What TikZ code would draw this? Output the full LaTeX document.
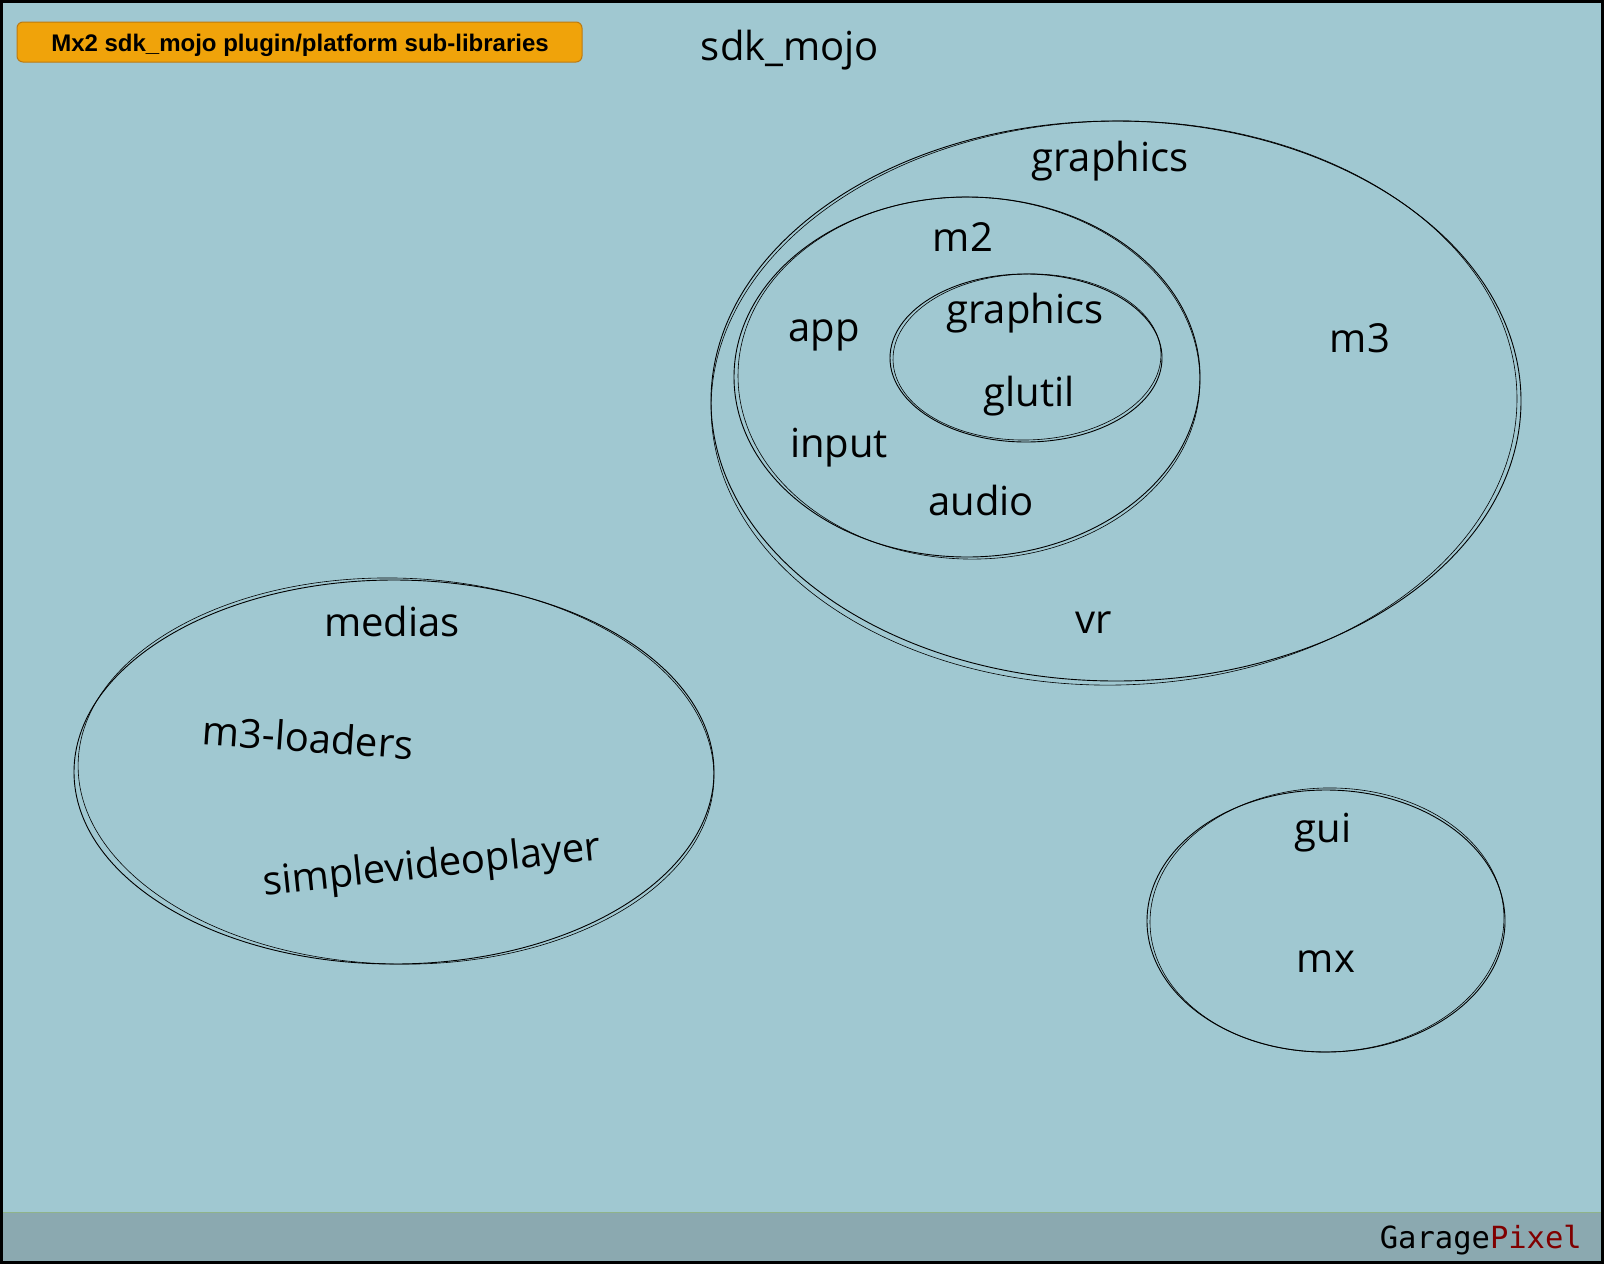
\documentclass[tikz,border=0pt]{standalone}
\usepackage{fontspec}
\setmainfont{Open Sans}
\newfontfamily\titlefont{Liberation Sans}
\newfontfamily\monofont{DejaVu Sans Mono}
\definecolor{bg}{HTML}{A0C8D1}
\definecolor{band}{HTML}{8BA9B0}
\definecolor{bandline}{HTML}{8FB38A}
\definecolor{orangefill}{HTML}{F0A30A}
\definecolor{orangeline}{HTML}{BD7A10}
\definecolor{darkred}{HTML}{800000}
\tikzset{
  lbl/.style={inner sep=0pt, font=\fontsize{40}{46}\selectfont},
  sk/.style={draw=black, line width=0.9pt},
  sk2/.style={draw=black, line width=0.6pt},
}
\begin{document}
\begin{tikzpicture}[x=1pt,y=-1pt]
\useasboundingbox (0,0) rectangle (1604,1264);
\fill[bg] (0,0) rectangle (1604,1264);
\fill[band] (0,1212) rectangle (1604,1264);
\draw[bandline, line width=1pt] (3,1212) -- (1601,1212);
\draw[line width=3pt] (1.5,1.5) rectangle (1602.5,1262.5);

% title box
\draw[fill=orangefill, draw=orangeline, line width=1pt, rounded corners=6pt] (17,22) rectangle (582,62);
\node[inner sep=0pt, font=\titlefont\bfseries\fontsize{24}{28}\selectfont] (title) at (300,45) {Mx2 sdk\_mojo plugin/platform sub-libraries};

\node[lbl] (sdk) at (790,50) {sdk\_mojo};

% m3 ellipse
\draw[sk] (1116,401) ellipse [x radius=405pt, y radius=280pt];
\draw[sk2, rotate around={1.2:(1116,401)}] (1114,403) ellipse [x radius=403pt, y radius=282pt];
% m2 ellipse
\draw[sk] (967,377) ellipse [x radius=233pt, y radius=180pt];
\draw[sk2, rotate around={-1.5:(967,377)}] (969,378) ellipse [x radius=231pt, y radius=181pt];
% inner graphics ellipse
\draw[sk] (1026,358) ellipse [x radius=136pt, y radius=84pt];
\draw[sk2, rotate around={1.5:(1026,358)}] (1027,357) ellipse [x radius=134pt, y radius=83pt];
% medias ellipse
\draw[sk] (394,772) ellipse [x radius=320pt, y radius=192pt];
\draw[sk2, rotate around={-1.5:(394,772)}] (396,771) ellipse [x radius=318pt, y radius=193pt];
% gui ellipse
\draw[sk] (1326,921) ellipse [x radius=179pt, y radius=131pt];
\draw[sk2, rotate around={1.5:(1326,921)}] (1327,920) ellipse [x radius=177pt, y radius=132pt];

\node[lbl] (graphicsA) at (1110,161) {graphics};
\node[lbl] (m2) at (963,237) {m2};
\node[lbl] (app) at (824,335) {app};
\node[lbl] (graphicsB) at (1025,313) {graphics};
\node[lbl] (glutil) at (1029,396) {glutil};
\node[lbl] (input) at (839,448) {input};
\node[lbl] (audio) at (981,500) {audio};
\node[lbl] (m3) at (1360,338) {m3};
\node[lbl] (vr) at (1094,623) {vr};

\node[lbl] (medias) at (392,621) {medias};
\node[lbl, rotate=-4] (loaders) at (308,737) {m3-loaders};
\node[lbl, rotate=6] (svp) at (432,867) {simplevideoplayer};

\node[lbl] (gui) at (1323,833) {gui};
\node[lbl] (mx) at (1326,962) {mx};

\node[inner sep=0pt, anchor=east, font=\monofont\fontsize{30.5}{34}\selectfont] (logo) at (1582,1240) {Garage\textcolor{darkred}{Pixel}};
\end{tikzpicture}
\end{document}
